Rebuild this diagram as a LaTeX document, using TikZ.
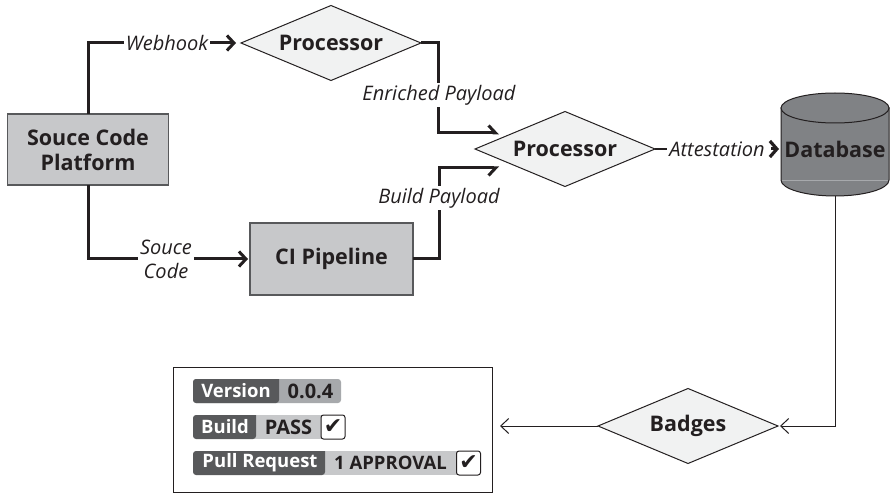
\documentclass[tikz,border=0pt]{standalone}
\usepackage{fontspec}
\setmainfont{Open Sans}
\newfontfamily\checkfont{DejaVu Sans}
\usetikzlibrary{shapes.geometric,arrows.meta}
\definecolor{ink}{HTML}{231F20}
\definecolor{boxgray}{HTML}{C7C8CA}
\definecolor{midgray}{HTML}{A7A9AC}
\definecolor{darkbadge}{HTML}{58595B}
\definecolor{dbgray}{HTML}{808285}
\definecolor{diamondfill}{HTML}{F1F2F2}
\tikzset{
  x=1pt,y=-1pt,
  every node/.style={text=ink,font=\fontsize{21.5}{25}\selectfont\bfseries,inner sep=0pt,outer sep=0pt,align=center},
  procbox/.style={draw=darkbadge,line width=1.2pt,fill=boxgray,rectangle,minimum width=161pt,minimum height=71pt},
  decision/.style={draw=ink,line width=1pt,fill=diamondfill,diamond,aspect=2.4,minimum width=180pt,minimum height=75pt},
  flow/.style={draw=ink,line width=3pt},
  thinflow/.style={draw=ink,line width=1pt},
  edgelabel/.style={fill=white,font=\fontsize{20}{24}\selectfont\itshape,inner xsep=2pt,inner ysep=2pt},
  barb/.style={-{Straight Barb[length=7pt,width=15pt,line width=3pt]}},
  upbarb/.style={-{Straight Barb[harpoon,length=7pt,width=15pt,line width=3pt]}},
  downbarb/.style={-{Straight Barb[harpoon,swap,length=7pt,width=15pt,line width=3pt]}},
  chevron/.style={-{Straight Barb[length=7pt,width=16pt,line width=3.2pt]}},
  thinbarb/.style={-{Straight Barb[length=8pt,width=15pt,line width=1pt]}},
  badgetext/.style={font=\fontsize{18.5}{20}\selectfont\bfseries},
  badgevalue/.style={font=\fontsize{20}{20}\selectfont\bfseries},
  checkbox/.style={draw=ink,line width=1pt,fill=white,rounded corners=2.5pt,minimum width=24pt,minimum height=24pt,font=\checkfont\fontsize{22}{22}\selectfont},
}
\begin{document}
\begin{tikzpicture}
\useasboundingbox (0,0) rectangle (891,494);
% Nodes
\node[procbox] (platform) at (88,149.5) {Souce Code\\Platform};
\node[procbox,minimum width=163pt,minimum height=72pt] (ci) at (331.5,259) {CI Pipeline};
\node[decision] (procA) at (331,43) {Processor};
\node[decision] (procB) at (565,149) {Processor};
\node[decision] (badges) at (688,426) {Badges};
% Database
\node[minimum width=108pt,minimum height=103pt] (db) at (835,144.5) {};
\path[draw=ink,line width=1pt,fill=dbgray] (781,108) -- (781,180)
  arc[start angle=180,end angle=0,x radius=54,y radius=16] -- (889,108) -- cycle;
\draw[ink,line width=1pt,fill=dbgray] (835,108) circle[x radius=54,y radius=15];
\draw[midgray,line width=.6pt] (782,180) -- (888,180);
\node (dblabel) at (835,149) {Database};
% Connection points
\coordinate (webend) at (236,43);
\coordinate (enrichedend) at (499,133);
\coordinate (buildend) at (499,168);
\coordinate (ciend) at (248,259);
\coordinate (attstart) at (771,149);
\coordinate (attend) at (779,149);
% Connectors
\draw[flow,barb] (platform.north) -- (88,43) -- (webend);
\draw[flow,upbarb] (procA.east) -- (438,43) -- (438,133) -- (enrichedend);
\draw[flow,downbarb] (ci.east) -- (439,259) -- (439,168) -- (buildend);
\draw[flow,barb] (platform.south) -- (88,259) -- (ciend);
\draw[thinflow,line width=1.5pt] (procB.east) -- (680,149);
\draw[flow,chevron] (attstart) -- (attend);
\draw[thinflow,thinbarb,shorten >=2pt] (db.south) -- (835,426) -- (badges.east);
\coordinate (badgeboxend) at (500,426);
\draw[thinflow,thinbarb] (badges.west) -- (badgeboxend);
% Edge labels
\node[edgelabel] (l1) at (167,43) {Webhook};
\node[edgelabel] (l2) at (439,95) {Enriched Payload};
\node[edgelabel] (l3) at (439,198) {Build Payload};
\node[edgelabel] (l4) at (166,259) {Souce\\Code};
\node[edgelabel] (l5) at (717,149) {Attestation};
% Badge panel
\node[draw=ink,line width=1pt,fill=white,minimum width=319pt,minimum height=125pt] (panel) at (332.5,429.5) {};
% Version
\fill[midgray,rounded corners=3pt] (193,379) rectangle (341,403);
\fill[darkbadge,rounded corners=3pt] (279,379) -- (193,379) -- (193,403) -- (279,403) [sharp corners] -- cycle;
\node[badgetext,text=white] (bv) at (236,391) {Version};
\node[badgevalue] (bvv) at (310.5,391) {0.0.4};
% Build
\fill[boxgray] (250,415) rectangle (324,439);
\fill[darkbadge,rounded corners=3pt] (256,415) -- (193,415) -- (193,439) -- (256,439) [sharp corners] -- cycle;
\node[badgetext,text=white] (bb) at (225,427) {Build};
\node[badgevalue] (bbv) at (288.5,427) {PASS};
\node[checkbox] (c1) at (333,427) {✔};
% Pull Request
\fill[boxgray] (320,451) rectangle (460,475);
\fill[darkbadge,rounded corners=3pt] (325,451) -- (193,451) -- (193,475) -- (325,475) [sharp corners] -- cycle;
\node[badgetext,text=white] (bp) at (260,463) {Pull Request};
\node[badgetext] (bpv) at (390.5,463) {1 APPROVAL};
\node[checkbox] (c2) at (468.5,463) {✔};
\end{tikzpicture}
\end{document}
